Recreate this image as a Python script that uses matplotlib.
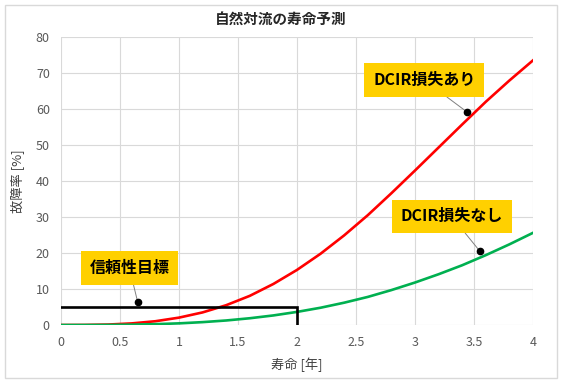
import matplotlib
matplotlib.use("Agg")
import matplotlib.pyplot as plt
from matplotlib.patches import Rectangle

plt.rcParams['font.family'] = ['Noto Sans CJK JP', 'DejaVu Sans']

# 寿命 [年]
years = [0, 0.2, 0.4, 0.6, 0.8, 1.0, 1.2, 1.4, 1.6, 1.8, 2.0,
         2.2, 2.4, 2.6, 2.8, 3.0, 3.2, 3.4, 3.6, 3.8, 4.0]
# 故障率 [%] DCIR損失あり
fail_with_loss = [0, 0.02, 0.13, 0.45, 1.05, 2.05, 3.5, 5.5, 8.1, 11.4, 15.3,
                  19.8, 24.9, 30.5, 36.6, 42.9, 49.3, 55.7, 62.0, 67.9, 73.5]
# 故障率 [%] DCIR損失なし
fail_no_loss = [0, 0.004, 0.03, 0.1, 0.24, 0.46, 0.8, 1.26, 1.88, 2.66, 3.64,
                4.8, 6.2, 7.8, 9.7, 11.8, 14.1, 16.6, 19.4, 22.4, 25.6]
# 信頼性目標
target_year = 2.0
target_rate = 5.0

fig = plt.figure(figsize=(5.61, 3.83), dpi=100)
ax = fig.add_axes([0.1087, 0.1514, 0.8413, 0.7520])

# outer frame
fig.patches.append(Rectangle((0.009, 0.013), 0.984, 0.975, transform=fig.transFigure,
                             fill=False, edgecolor='#D9D9D9', linewidth=1.0))

ax.plot(years, fail_with_loss, color='#FF0000', linewidth=1.9, zorder=3)
ax.plot(years, fail_no_loss, color='#00B050', linewidth=1.9, zorder=3)
ax.plot([0, target_year, target_year], [target_rate, target_rate, 0],
        color='black', linewidth=1.9, zorder=4, solid_joinstyle='miter')

ax.set_xlim(0, 4)
ax.set_ylim(0, 80)
ax.set_xticks([0, 0.5, 1, 1.5, 2, 2.5, 3, 3.5, 4])
ax.set_xticklabels(['0', '0.5', '1', '1.5', '2', '2.5', '3', '3.5', '4'])
ax.set_yticks(range(0, 81, 10))
ax.grid(True, color='#D9D9D9', linewidth=0.8)
ax.set_axisbelow(True)
for s in ax.spines.values():
    s.set_visible(False)
ax.tick_params(length=0, labelsize=9, labelcolor='#595959', pad=8)

ax.set_xlabel('寿命 [年]', fontsize=9.5, color='#404040', labelpad=6)
ax.set_ylabel('故障率 [%]', fontsize=9.5, color='#404040', labelpad=8)
fig.text(0.5, 0.952, '自然対流の寿命予測', ha='center', va='center',
         fontsize=10.5, fontweight='bold', color='#262626')

box = dict(boxstyle='square,pad=0.55', facecolor='#FFD000', edgecolor='none')
arrow = dict(arrowstyle='-', color='#808080', linewidth=0.7, shrinkA=0, shrinkB=0)

labels = [('信頼性目標', (0.65, 6.4), (0.58, 15.8)),
          ('DCIR損失あり', (3.44, 59.2), (3.08, 68.0)),
          ('DCIR損失なし', (3.55, 20.5), (3.31, 30.2))]
for text, pt, pos in labels:
    ax.annotate(text, xy=pt, xytext=pos, ha='center', va='center',
                fontsize=11.5, fontweight='bold', color='black', bbox=box,
                arrowprops=arrow, zorder=5)
    ax.plot(*pt, 'o', color='black', markersize=4.5, zorder=6)

fig.savefig('out.png', dpi=100)
